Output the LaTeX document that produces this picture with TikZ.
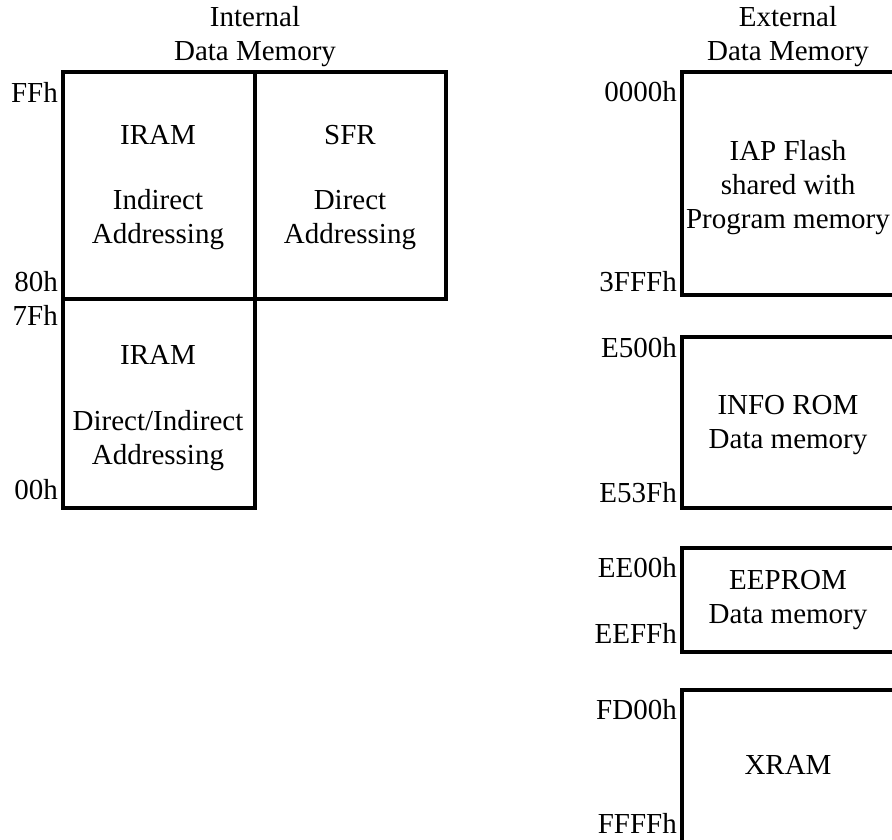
\documentclass[tikz,border=0pt]{standalone}
\usepackage{fontspec}
\setmainfont{Liberation Serif}
\begin{document}
\begin{tikzpicture}[x=1pt,y=-1pt,
  box/.style={line width=4pt},
  txt/.style={font=\fontsize{29}{34}\selectfont, align=center, inner sep=0pt},
  addr/.style={font=\fontsize{29}{34}\selectfont, anchor=east, inner sep=0pt}]
\useasboundingbox (0,0) rectangle (892,839);
\clip (0,0) rectangle (892,839);
% internal memory
\draw[box] (63,72) rectangle (446,299);
\draw[box] (255,72) -- (255,299);
\draw[box] (63,299) rectangle (255,508);
\node[txt] (intT) at (255,37) {Internal\\Data Memory};
\node[txt] (iram1) at (158,135) {IRAM};
\node[txt] (iram1a) at (158,220) {Indirect\\Addressing};
\node[txt] (sfr) at (350,135) {SFR};
\node[txt] (sfra) at (350,220) {Direct\\Addressing};
\node[txt] (iram2) at (158,355) {IRAM};
\node[txt] (iram2a) at (158,441) {Direct/Indirect\\Addressing};
\node[addr] (aFF) at (58,92) {FFh};
\node[addr] (a80) at (58,282) {80h};
\node[addr] (a7F) at (58,315) {7Fh};
\node[addr] (a00) at (58,490) {00h};
% external memory
\draw[box] (900,72) -- (682,72) -- (682,295) -- (900,295);
\draw[box] (900,337) -- (682,337) -- (682,508) -- (900,508);
\draw[box] (900,548) -- (682,548) -- (682,652) -- (900,652);
\draw[box] (900,690) -- (682,690) -- (682,850);
\node[txt] (extT) at (788,37) {External\\Data Memory};
\node[txt] (iap) at (788,188) {IAP Flash\\shared with\\Program memory};
\node[txt] (info) at (788,425) {INFO ROM\\Data memory};
\node[txt] (eep) at (788,600) {EEPROM\\Data memory};
\node[txt] (xram) at (788,765) {XRAM};
\node[addr] (b0000) at (677,92) {0000h};
\node[addr] (b3FFF) at (677,282) {3FFFh};
\node[addr] (bE500) at (677,348) {E500h};
\node[addr] (bE53F) at (677,493) {E53Fh};
\node[addr] (bEE00) at (677,568) {EE00h};
\node[addr] (bEEFF) at (677,633) {EEFFh};
\node[addr] (bFD00) at (677,710) {FD00h};
\node[addr] (bFFFF) at (677,823) {FFFFh};
\end{tikzpicture}
\end{document}
